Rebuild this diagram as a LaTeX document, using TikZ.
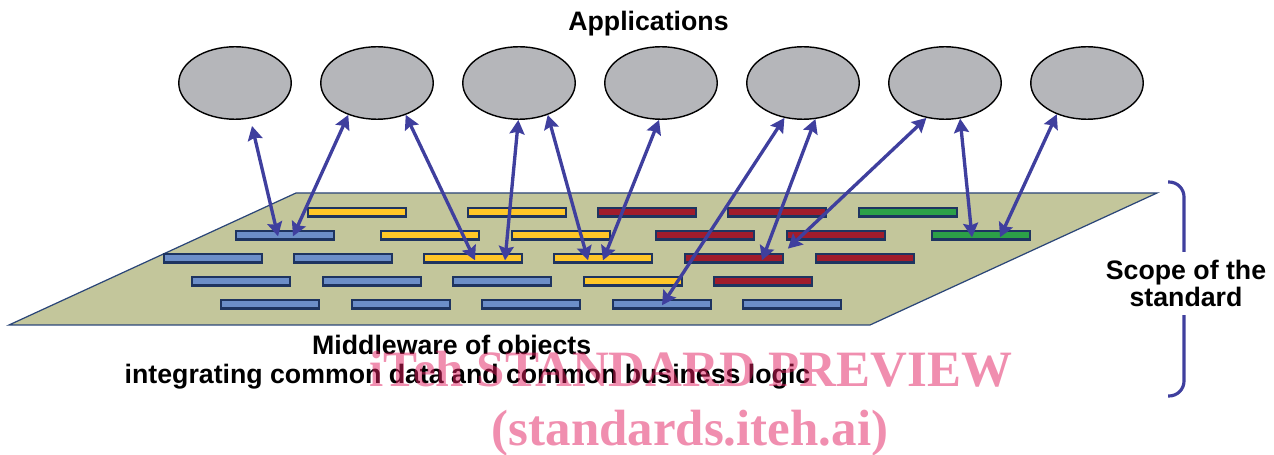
\documentclass[tikz,border=0pt]{standalone}
\usepackage{fontspec}
\setmainfont{Liberation Sans}
\newfontfamily\wmfont{Liberation Serif}
\usetikzlibrary{arrows.meta,shapes.geometric,calc}

\definecolor{appgray}{RGB}{181,182,186}
\definecolor{platefill}{RGB}{195,198,155}
\definecolor{plateline}{RGB}{43,70,120}
\definecolor{barline}{RGB}{30,52,96}
\definecolor{barblue}{RGB}{108,142,200}
\definecolor{baryellow}{RGB}{255,198,40}
\definecolor{barred}{RGB}{160,28,44}
\definecolor{bargreen}{RGB}{44,160,72}
\definecolor{linkblue}{RGB}{63,63,158}
\definecolor{wmpink}{RGB}{225,30,95}

\begin{document}
\begin{tikzpicture}[x=0.02cm, y=-0.02cm,
  app/.style={ellipse, draw=black, line width=0.8pt, fill=appgray, minimum width=2.25cm, minimum height=1.45cm},
  bar/.style={rectangle, draw=barline, line width=1.25pt, minimum width=1.96cm, minimum height=0.17cm, inner sep=0pt},
  link/.style={<->, >={Stealth[length=8pt,width=8.5pt,inset=1.2pt]}, line width=1.9pt, draw=linkblue},
  txt/.style={font=\fontsize{15.2}{15.6}\selectfont\bfseries, inner sep=0pt},
  wmark/.style={font=\wmfont\bfseries\fontsize{29}{30}\selectfont, text=wmpink, text opacity=0.5, inner sep=0pt}]
\useasboundingbox (0,0) rectangle (1274,455);

\node[txt, anchor=base] (apps) at (648.5,31) {Applications};

\node[app] (app1) at (235,83) {};
\node[app] (app2) at (377,83) {};
\node[app] (app3) at (519,83) {};
\node[app] (app4) at (661,83) {};
\node[app] (app5) at (803,83) {};
\node[app] (app6) at (945,83) {};
\node[app] (app7) at (1087,83) {};

% middleware plane
\draw[fill=platefill, draw=plateline, line width=0.7pt] (296,193) -- (1157,193) -- (870,325) -- (9,325) -- cycle;

\node[bar, fill=baryellow] (b11) at (357,212.3) {};
\node[bar, fill=baryellow] (b12) at (517,212.3) {};
\node[bar, fill=barred] (b13) at (647,212.3) {};
\node[bar, fill=barred] (b14) at (777,212.3) {};
\node[bar, fill=bargreen] (b15) at (908,212.3) {};

\node[bar, fill=barblue] (b21) at (285,235.3) {};
\node[bar, fill=baryellow] (b22) at (430,235.3) {};
\node[bar, fill=baryellow] (b23) at (561,235.3) {};
\node[bar, fill=barred] (b24) at (705,235.3) {};
\node[bar, fill=barred] (b25) at (836,235.3) {};
\node[bar, fill=bargreen] (b26) at (981,235.3) {};

\node[bar, fill=barblue] (b31) at (213,258.3) {};
\node[bar, fill=barblue] (b32) at (343,258.3) {};
\node[bar, fill=baryellow] (b33) at (473,258.3) {};
\node[bar, fill=baryellow] (b34) at (603,258.3) {};
\node[bar, fill=barred] (b35) at (734,258.3) {};
\node[bar, fill=barred] (b36) at (865,258.3) {};

\node[bar, fill=barblue] (b41) at (241,281.3) {};
\node[bar, fill=barblue] (b42) at (372,281.3) {};
\node[bar, fill=barblue] (b43) at (502,281.3) {};
\node[bar, fill=baryellow] (b44) at (633,281.3) {};
\node[bar, fill=barred] (b45) at (763,281.3) {};

\node[bar, fill=barblue] (b51) at (270,304.3) {};
\node[bar, fill=barblue] (b52) at (401,304.3) {};
\node[bar, fill=barblue] (b53) at (531,304.3) {};
\node[bar, fill=barblue] (b54) at (662,304.3) {};
\node[bar, fill=barblue] (b55) at (792,304.3) {};

% application links
\draw[link] ($(app1)+(17,43)$) -- ($(b21)+(-7,1)$);
\draw[link] (app2.-132) -- ($(b21)+(8,1)$);
\draw[link] (app2.-48) -- ($(b33)+(2,2)$);
\draw[link] (app3.-91) -- ($(b33)+(32,2)$);
\draw[link] (app3.-48) -- ($(b34)+(-15,2)$);
\draw[link] (app4.-93) -- ($(b34)+(0,2)$);
\draw[link] (app5.-118) -- ($(b54)+(0,1)$);
\draw[link] (app5.-71) -- ($(b35)+(28,2)$);
\draw[link] (app6.-118) -- ($(b25.south west)+(2,8)$);
\draw[link] (app6.-67) -- ($(b26)+(-9,2)$);
\draw[link] (app7.-134) -- ($(b26)+(19,2)$);

\node[txt, anchor=base] (midtitle) at (451.7,355) {Middleware of objects};
\node[txt, anchor=base] (midsub) at (467.5,383.3) {integrating common data and common business logic};

% scope bracket
\draw[draw=linkblue, line width=1.8pt, rounded corners=0.3cm] (1168,182) -- (1184,182) -- (1184,396) -- (1168,396);
\node[txt, fill=white, align=center, inner xsep=2pt, inner ysep=0.16cm] (scope) at (1186,283.3) {Scope of the\\standard};

\node[wmark, anchor=base] (wm1) at (691,387) {iTeh STANDARD PREVIEW};
\node[wmark, anchor=base] (wm2) at (690,446) {(standards.iteh.ai)};
\end{tikzpicture}
\end{document}
